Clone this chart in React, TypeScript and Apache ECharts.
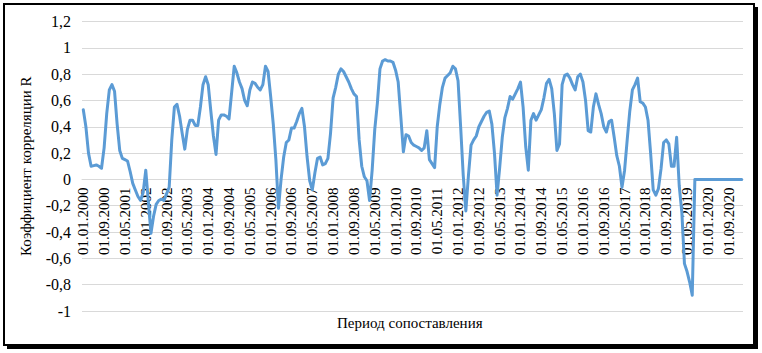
import React, { useEffect, useRef } from "react";
import * as echarts from "echarts";

// Monthly periods starting 01.01.2000
const startYear = 2000;
const monthCount = 254;
const categories: string[] = [];
for (let k = 0; k < monthCount; k++) {
  const y = startYear + Math.floor(k / 12);
  const m = (k % 12) + 1;
  categories.push("01." + (m < 10 ? "0" + m : String(m)) + "." + y);
}

const values2000_2004: number[] = [
  0.53, 0.4, 0.2, 0.1, 0.105, 0.11, 0.1, 0.085, 0.24, 0.5, 0.68, 0.72,
  0.67, 0.42, 0.22, 0.16, 0.15, 0.14, 0.06, -0.03, -0.08, -0.13, -0.16, -0.1,
  0.07, -0.17, -0.41, -0.28, -0.19, -0.16, -0.15, -0.16, -0.11, -0.06, 0.3, 0.55,
  0.57, 0.48, 0.35, 0.23, 0.38, 0.45, 0.45, 0.41, 0.41, 0.55, 0.72, 0.78,
  0.72, 0.52, 0.33, 0.19, 0.45, 0.49, 0.49, 0.48, 0.46, 0.66, 0.86, 0.81,
];
const values2005_2009: number[] = [
  0.74, 0.69, 0.6, 0.56, 0.68, 0.74, 0.73, 0.7, 0.68, 0.72, 0.86, 0.82,
  0.63, 0.42, 0.15, -0.22, 0.0, 0.17, 0.28, 0.3, 0.39, 0.39, 0.44, 0.5,
  0.54, 0.4, 0.17, -0.01, -0.08, 0.05, 0.16, 0.17, 0.11, 0.12, 0.16, 0.35,
  0.62, 0.7, 0.8, 0.84, 0.82, 0.78, 0.74, 0.69, 0.65, 0.63, 0.3, 0.1,
  0.02, -0.01, -0.16, 0.07, 0.38, 0.58, 0.84, 0.9, 0.91, 0.9, 0.9, 0.89,
];
const values2010_2014: number[] = [
  0.83, 0.74, 0.48, 0.21, 0.34, 0.33, 0.28, 0.26, 0.25, 0.24, 0.22, 0.24,
  0.37, 0.15, 0.12, 0.09, 0.4, 0.57, 0.7, 0.77, 0.79, 0.81, 0.86, 0.84,
  0.75, 0.4, 0.03, -0.24, 0.03, 0.26, 0.3, 0.33, 0.4, 0.44, 0.48, 0.51,
  0.52, 0.42, 0.2, -0.12, 0.09, 0.32, 0.47, 0.54, 0.63, 0.61, 0.65, 0.69,
  0.74, 0.55, 0.25, 0.07, 0.45, 0.5, 0.45, 0.49, 0.53, 0.62, 0.73, 0.76,
];
const values2015_2021: number[] = [
  0.69, 0.5, 0.22, 0.27, 0.72, 0.79, 0.8, 0.77, 0.72, 0.68, 0.78, 0.8,
  0.74, 0.6, 0.37, 0.36, 0.55, 0.65, 0.57, 0.5, 0.4, 0.36, 0.44, 0.45,
  0.32, 0.18, 0.1, -0.06, 0.07, 0.3, 0.52, 0.68, 0.72, 0.77, 0.59, 0.58,
  0.55, 0.45, 0.2, -0.08, -0.12, -0.07, 0.08, 0.28, 0.3, 0.27, 0.1, 0.1,
  0.32, -0.05, -0.25, -0.64, -0.7, -0.78, -0.88, 0, 0, 0, 0, 0,
  0, 0, 0, 0, 0, 0, 0, 0, 0, 0, 0, 0,
  0, 0,
];

const seriesValues: number[] = [
  ...values2000_2004,
  ...values2005_2009,
  ...values2010_2014,
  ...values2015_2021,
];

const yTitle = "Коэффициент корреляции R";
const xTitle = "Период сопоставления";

const yMin = -1;
const yMax = 1.2;

const FONT = "'Liberation Serif', 'Times New Roman', serif";

export default function App() {
  const ref = useRef<HTMLDivElement>(null);
  useEffect(() => {
    if (!ref.current) return;
    const chart = echarts.init(ref.current, undefined, { renderer: "svg" });
    const gridTop = 21.5;
    const gridHeight = 289.5;
    // place the category axis on the zero line (as in the original)
    const zeroOffset = -(gridHeight * (0 - yMin)) / (yMax - yMin);
    chart.setOption({
      animation: false,
      backgroundColor: "#ffffff",
      grid: { left: 82, top: gridTop, width: 661, height: gridHeight, containLabel: false },
      xAxis: {
        type: "category",
        data: categories.slice(0, seriesValues.length),
        boundaryGap: true,
        offset: zeroOffset,
        axisLine: { onZero: false, lineStyle: { color: "#d9d9d9", width: 1 } },
        axisTick: { show: false },
        axisLabel: {
          interval: 7,
          rotate: 90,
          margin: 8,
          fontFamily: FONT,
          fontSize: 15,
          color: "#000",
        },
        splitLine: { show: false },
      },
      yAxis: {
        type: "value",
        min: yMin,
        max: yMax,
        interval: 0.2,
        name: yTitle,
        nameLocation: "middle",
        nameGap: 49,
        nameTextStyle: { fontFamily: FONT, fontSize: 15, color: "#000" },
        axisLine: { show: false },
        axisTick: { show: false },
        axisLabel: {
          margin: 11,
          fontFamily: FONT,
          fontSize: 16,
          color: "#000",
          formatter: (v: number) => String(Math.round(v * 10) / 10).replace(".", ","),
        },
        splitLine: { lineStyle: { color: "#d9d9d9", width: 1 } },
      },
      series: [
        {
          type: "line",
          data: seriesValues,
          symbol: "none",
          smooth: false,
          lineStyle: { color: "#5b9bd5", width: 3, join: "round", cap: "round" },
          itemStyle: { color: "#5b9bd5" },
        },
      ],
      graphic: [
        {
          type: "text",
          left: 412 - 75,
          top: 315,
          style: {
            text: xTitle,
            fontFamily: FONT,
            fontSize: 15,
            fill: "#000",
          },
        },
        {
          type: "rect",
          silent: true,
          shape: { x: 4, y: 4, width: 750, height: 341 },
          style: { fill: "none", stroke: "#000", lineWidth: 2 },
        },
        {
          type: "polyline",
          silent: true,
          shape: { points: [[756.5, 7], [756.5, 347.5], [7, 347.5]] },
          style: { fill: "none", stroke: "#000", lineWidth: 3 },
        },
      ],
    });
    return () => chart.dispose();
  }, []);
  return (
    <div
      ref={ref}
      style={{ position: "absolute", left: 0, top: 0, width: 762, height: 353 }}
    />
  );
}
